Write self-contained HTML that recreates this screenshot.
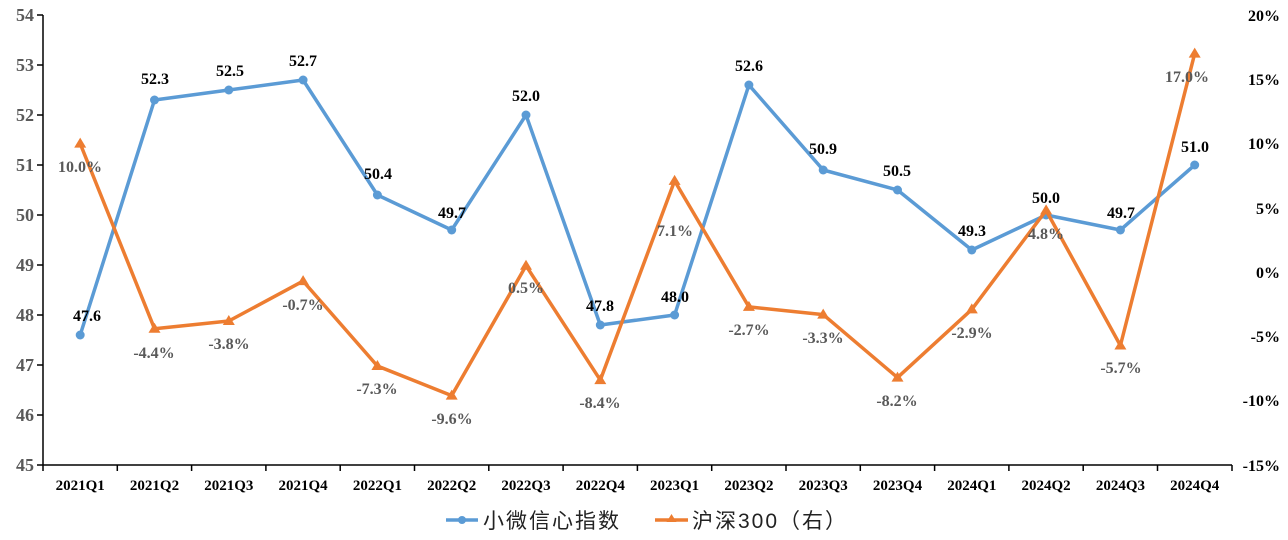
<!DOCTYPE html>
<html><head><meta charset="utf-8"><style>
body{margin:0;background:#fff}
svg{display:block}
.l{font:bold 18px "Liberation Serif",serif;fill:#595959}
.r{font:bold 16px "Liberation Serif",serif;fill:#000}
.x{font:bold 15px "Liberation Serif",serif;fill:#000}
.b{font:bold 16px "Liberation Serif",serif;fill:#000}
.o{font:bold 16px "Liberation Serif",serif;fill:#595959}
.lg{font:21px "Liberation Sans","Noto Sans CJK SC",sans-serif;fill:#222;letter-spacing:2px}
</style></head><body>
<svg width="1288" height="540" viewBox="0 0 1288 540">
<g text-anchor="end" class="l">
<text x="34" y="21">54</text><text x="34" y="71">53</text><text x="34" y="121">52</text><text x="34" y="171">51</text><text x="34" y="221">50</text><text x="34" y="271">49</text><text x="34" y="321">48</text><text x="34" y="371">47</text><text x="34" y="421">46</text><text x="34" y="471">45</text>
</g>
<g text-anchor="end" class="r">
<text x="1280" y="21">20%</text><text x="1280" y="85">15%</text><text x="1280" y="149">10%</text><text x="1280" y="214">5%</text><text x="1280" y="278">0%</text><text x="1280" y="342">-5%</text><text x="1280" y="406">-10%</text><text x="1280" y="471">-15%</text>
</g>
<g stroke="#000" stroke-width="1.5">
<line x1="43" y1="15" x2="43" y2="465"/>
<line x1="43" y1="465" x2="1232" y2="465"/>
<path d="M37 15h6M37 65h6M37 115h6M37 165h6M37 215h6M37 265h6M37 315h6M37 365h6M37 415h6M37 465h6"/>
<path d="M43 465v6M117.3 465v6M191.6 465v6M265.9 465v6M340.2 465v6M414.5 465v6M488.8 465v6M563.1 465v6M637.4 465v6M711.7 465v6M786 465v6M860.3 465v6M934.6 465v6M1008.9 465v6M1083.2 465v6M1157.5 465v6M1232 465v6"/>
</g>
<g text-anchor="middle" class="x">
<text x="80.2" y="490">2021Q1</text><text x="154.5" y="490">2021Q2</text><text x="228.8" y="490">2021Q3</text><text x="303.1" y="490">2021Q4</text><text x="377.4" y="490">2022Q1</text><text x="451.7" y="490">2022Q2</text><text x="526" y="490">2022Q3</text><text x="600.3" y="490">2022Q4</text><text x="674.6" y="490">2023Q1</text><text x="748.9" y="490">2023Q2</text><text x="823.2" y="490">2023Q3</text><text x="897.5" y="490">2023Q4</text><text x="971.8" y="490">2024Q1</text><text x="1046.1" y="490">2024Q2</text><text x="1120.4" y="490">2024Q3</text><text x="1194.7" y="490">2024Q4</text>
</g>
<polyline fill="none" stroke="#5B9BD5" stroke-width="3.5" stroke-linejoin="round" points="80.2,335 154.5,100 228.8,90 303.1,80 377.4,195 451.7,230 526,115 600.3,325 674.6,315 748.9,85 823.2,170 897.5,190 971.8,250 1046.1,215 1120.4,230 1194.7,165"/>
<g fill="#5B9BD5">
<circle cx="80.2" cy="335" r="4.5"/><circle cx="154.5" cy="100" r="4.5"/><circle cx="228.8" cy="90" r="4.5"/><circle cx="303.1" cy="80" r="4.5"/><circle cx="377.4" cy="195" r="4.5"/><circle cx="451.7" cy="230" r="4.5"/><circle cx="526" cy="115" r="4.5"/><circle cx="600.3" cy="325" r="4.5"/><circle cx="674.6" cy="315" r="4.5"/><circle cx="748.9" cy="85" r="4.5"/><circle cx="823.2" cy="170" r="4.5"/><circle cx="897.5" cy="190" r="4.5"/><circle cx="971.8" cy="250" r="4.5"/><circle cx="1046.1" cy="215" r="4.5"/><circle cx="1120.4" cy="230" r="4.5"/><circle cx="1194.7" cy="165" r="4.5"/>
</g>
<polyline fill="none" stroke="#ED7D31" stroke-width="3.5" stroke-linejoin="round" points="80.2,143.6 154.5,328.7 228.8,321 303.1,281.1 377.4,366 451.7,395.6 526,265.7 600.3,380.1 674.6,180.9 748.9,306.9 823.2,314.6 897.5,377.6 971.8,309.4 1046.1,210.4 1120.4,345.5 1194.7,53.6"/>
<g fill="#ED7D31">
<path d="M80.2 137.6l6 10h-12z"/><path d="M154.5 322.7l6 10h-12z"/><path d="M228.8 315l6 10h-12z"/><path d="M303.1 275.1l6 10h-12z"/><path d="M377.4 360l6 10h-12z"/><path d="M451.7 389.6l6 10h-12z"/><path d="M526 259.7l6 10h-12z"/><path d="M600.3 374.1l6 10h-12z"/><path d="M674.6 174.9l6 10h-12z"/><path d="M748.9 300.9l6 10h-12z"/><path d="M823.2 308.6l6 10h-12z"/><path d="M897.5 371.6l6 10h-12z"/><path d="M971.8 303.4l6 10h-12z"/><path d="M1046.1 204.4l6 10h-12z"/><path d="M1120.4 339.5l6 10h-12z"/><path d="M1194.7 47.6l6 10h-12z"/>
</g>
<g text-anchor="middle" class="b">
<text x="87" y="321">47.6</text><text x="155" y="84">52.3</text><text x="230" y="76">52.5</text><text x="303" y="66">52.7</text><text x="378" y="179">50.4</text><text x="452" y="218">49.7</text><text x="526" y="101">52.0</text><text x="600" y="311">47.8</text><text x="675" y="302">48.0</text><text x="749" y="71">52.6</text><text x="823" y="154">50.9</text><text x="897" y="176">50.5</text><text x="972" y="236">49.3</text><text x="1046" y="203">50.0</text><text x="1121" y="218">49.7</text><text x="1195" y="152">51.0</text>
</g>
<g text-anchor="middle" class="o">
<text x="80" y="172">10.0%</text><text x="154" y="358">-4.4%</text><text x="229" y="349">-3.8%</text><text x="303" y="310">-0.7%</text><text x="377" y="394">-7.3%</text><text x="452" y="424">-9.6%</text><text x="526" y="293">0.5%</text><text x="600" y="408">-8.4%</text><text x="675" y="236">7.1%</text><text x="749" y="335">-2.7%</text><text x="823" y="343">-3.3%</text><text x="897" y="406">-8.2%</text><text x="972" y="338">-2.9%</text><text x="1046" y="239">4.8%</text><text x="1121" y="373">-5.7%</text><text x="1187" y="82">17.0%</text>
</g>
<line x1="446" y1="520" x2="478" y2="520" stroke="#5B9BD5" stroke-width="3.5"/>
<circle cx="462" cy="520" r="4" fill="#5B9BD5"/>
<text x="483" y="528" class="lg">小微信心指数</text>
<line x1="655" y1="520" x2="688" y2="520" stroke="#ED7D31" stroke-width="3.5"/>
<path d="M671.5 514l5 8h-10z" fill="#ED7D31"/>
<text x="692" y="528" class="lg">沪深300（右）</text>
</svg>
</body></html>
